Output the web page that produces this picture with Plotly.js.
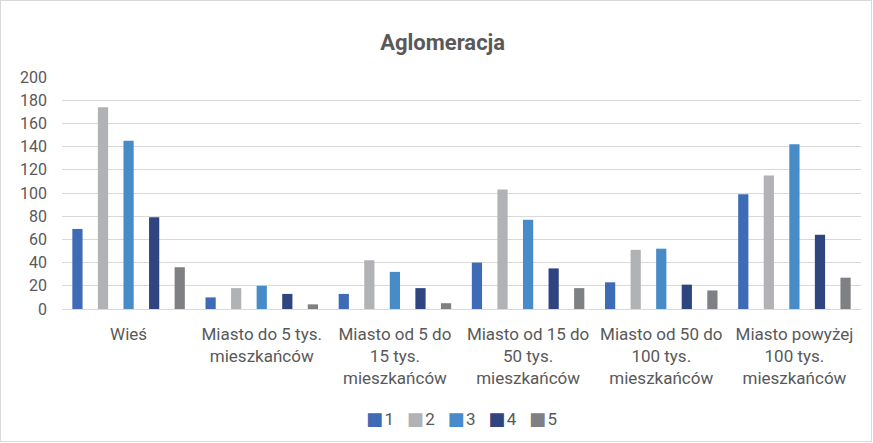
<!DOCTYPE html>
<html><head><meta charset="utf-8">
<script src="https://cdn.plot.ly/plotly-3.0.1.min.js"></script>
<style>
html,body{margin:0;padding:0;background:#fff;}
#wrap{position:absolute;left:0;top:0;width:870px;height:440px;border:1px solid #d9d9d9;}
#chart{width:873px;height:443px;position:absolute;left:0;top:0;}
</style></head>
<body><div id="wrap"></div><div id="chart"></div>
<script>
const categories = ["Wieś","Miasto do 5 tys.<br>mieszkańców","Miasto od 5 do<br>15 tys.<br>mieszkańców","Miasto od 15 do<br>50 tys.<br>mieszkańców","Miasto od 50 do<br>100 tys.<br>mieszkańców","Miasto powyżej<br>100 tys.<br>mieszkańców"];
const seriesNames = ["1","2","3","4","5"];
const s1 = [69,10,13,40,23,99];
const s2 = [174,18,42,103,51,115];
const s3 = [145,20,32,77,52,142];
const s4 = [79,13,18,35,21,64];
const s5 = [36,4,5,18,16,27];
const colors = ["#3F6AB5","#B1B2B5","#488BC9","#2F4580","#7F8083"];
const series = [s1,s2,s3,s4,s5];
const traces = series.map((v,i)=>({type:'bar',x:categories,y:v,name:seriesNames[i],marker:{color:colors[i]},hoverinfo:'none'}));
const font = "Roboto, sans-serif";
const legendText = seriesNames.map((n,i)=>'<span style="color:'+colors[i]+';font-family:DejaVu Sans;font-size:18px">■</span><span style="font-size:6px">&nbsp;</span>'+n).join('&nbsp;&nbsp;&nbsp;');
Plotly.newPlot('chart',traces,{
  width:873,height:443,
  paper_bgcolor:'rgba(0,0,0,0)',plot_bgcolor:'rgba(0,0,0,0)',
  margin:{l:62,r:12,t:77,b:134},
  title:{text:'<b>Aglomeracja</b>',font:{family:font,size:22,color:'#595959'},x:0.507,xanchor:'center',y:0.905,yanchor:'middle'},
  barmode:'group',bargap:0.04,bargroupgap:0.6,
  xaxis:{tickfont:{family:font,size:17,color:'#595959'},showgrid:false,showline:false,ticks:'',fixedrange:true,ticklabelstandoff:13},
  yaxis:{range:[0,200],dtick:20,tickfont:{family:font,size:16,color:'#595959'},gridcolor:'#d9d9d9',gridwidth:1,zeroline:true,zerolinecolor:'#d9d9d9',showline:false,ticks:'',ticklabelstandoff:14},
  showlegend:false,
  annotations:[{xref:'paper',yref:'paper',x:0.5,y:-0.47,xanchor:'center',yanchor:'middle',showarrow:false,text:legendText,font:{family:font,size:17,color:'#595959'}}]
},{displayModeBar:false,staticPlot:true});
</script></body></html>
